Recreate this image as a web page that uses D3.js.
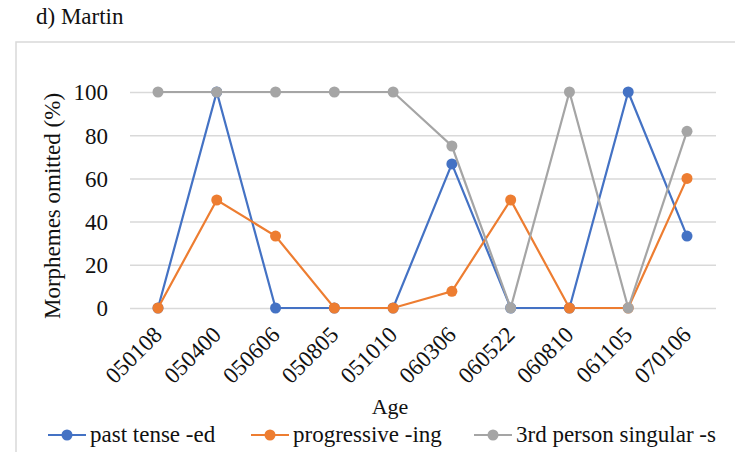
<!DOCTYPE html>
<html><head><meta charset="utf-8">
<script src="https://cdn.jsdelivr.net/npm/d3@7"></script>
<style>body{margin:0;background:#fff}</style>
</head><body><svg id="c" width="735" height="452"></svg>
<script>
const FONT='"Liberation Serif", "Times New Roman", serif';
const categories=["050108","050400","050606","050805","051010","060306","060522","060810","061105","070106"];
const pastTense=[0,100,0,0,0,66.7,0,0,100,33.3];
const progressive=[0,50,33.3,0,0,7.7,50,0,0,60];
const thirdPerson=[100,100,100,100,100,75,0,100,0,81.8];
const yTicks=[0,20,40,60,80,100];
const seriesNames=["past tense -ed","progressive -ing","3rd person singular -s"];
const colors=["#4472C4","#ED7D31","#A5A5A5"];

const svg=d3.select("#c");
const txt=(sel,size)=>sel.style("font-family",FONT).style("font-size",size+"px").style("fill","#111");

svg.append("rect").attr("x",16).attr("y",42).attr("width",730).attr("height",420).attr("fill","#fff").attr("stroke","#d9d9d9").attr("stroke-width",1.5);
txt(svg.append("text").attr("x",36).attr("y",24),23).text("d) Martin");

const x=d3.scalePoint().domain(categories).range([158,687]);
const y=d3.scaleLinear().domain([0,100]).range([308,92]);

const g=svg.append("g");
const grid=d3.axisLeft(y).tickValues(yTicks).tickSize(-586).tickFormat("");
g.append("g").attr("transform","translate(130,0)").call(grid)
 .call(s=>s.select(".domain").remove())
 .call(s=>s.selectAll("line").attr("stroke","#d9d9d9").attr("stroke-width",1.5));
const ya=d3.axisLeft(y).tickValues(yTicks).tickSize(0).tickPadding(0);
g.append("g").attr("transform","translate(108,0)").call(ya)
 .call(s=>s.select(".domain").remove())
 .call(s=>txt(s.selectAll("text"),23).attr("dy","0.34em"));
const xa=d3.axisBottom(x).tickSize(0).tickPadding(0);
g.append("g").attr("transform","translate(0,308)").call(xa)
 .call(s=>s.select(".domain").remove())
 .call(s=>txt(s.selectAll("text"),23)
   .attr("text-anchor","end").attr("dy",0).attr("transform","translate(5,28) rotate(-45)"));

txt(svg.append("text").attr("x",390).attr("y",414).attr("text-anchor","middle"),22).text("Age");
txt(svg.append("text").attr("transform","translate(60,206) rotate(-90)").attr("text-anchor","middle"),23).text("Morphemes omitted (%)");

const data=[pastTense,progressive,thirdPerson];
const line=d3.line().x((d,i)=>x(categories[i])).y(d=>y(d));
data.forEach((vals,k)=>{
  const sg=svg.append("g");
  sg.append("path").datum(vals).attr("d",line).attr("fill","none").attr("stroke",colors[k]).attr("stroke-width",2.2);
  sg.selectAll("circle").data(vals).join("circle").attr("cx",(d,i)=>x(categories[i])).attr("cy",d=>y(d)).attr("r",5.5).attr("fill",colors[k]);
});

const legX=[48,251,474];
const lg=svg.append("g");
seriesNames.forEach((n,k)=>{
  lg.append("line").attr("x1",legX[k]).attr("x2",legX[k]+38).attr("y1",435).attr("y2",435).attr("stroke",colors[k]).attr("stroke-width",2.2);
  lg.append("circle").attr("cx",legX[k]+19).attr("cy",435).attr("r",5.5).attr("fill",colors[k]);
  txt(lg.append("text").attr("x",legX[k]+42).attr("y",442),23).text(n);
});
</script></body></html>
